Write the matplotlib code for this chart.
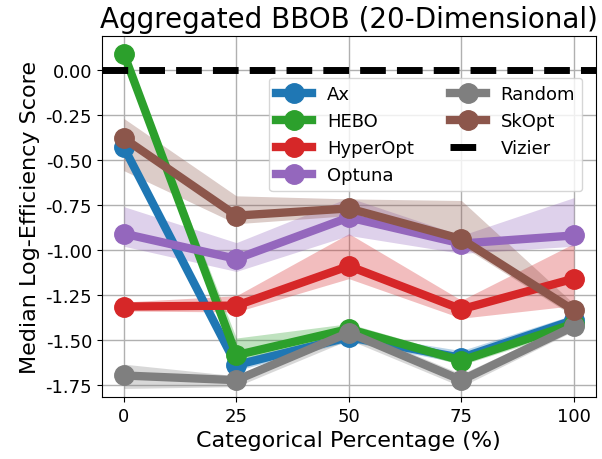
import matplotlib
matplotlib.use("Agg")
import matplotlib.pyplot as plt
import numpy as np

x = [0, 25, 50, 75, 100]
xticks = [0, 25, 50, 75, 100]

names = ["Ax", "HEBO", "HyperOpt", "Optuna", "Random", "SkOpt"]
colors = ["#1f77b4", "#2ca02c", "#d62728", "#9467bd", "#7f7f7f", "#8c564b"]

ax_med = [-0.43, -1.64, -1.485, -1.60, -1.39]
ax_lo = [-0.45, -1.67, -1.51, -1.63, -1.42]
ax_hi = [-0.41, -1.61, -1.46, -1.56, -1.36]

hebo_med = [0.09, -1.585, -1.44, -1.615, -1.41]
hebo_lo = [0.08, -1.62, -1.47, -1.64, -1.44]
hebo_hi = [0.10, -1.49, -1.41, -1.59, -1.39]

hyper_med = [-1.315, -1.31, -1.09, -1.33, -1.16]
hyper_lo = [-1.34, -1.345, -1.16, -1.38, -1.31]
hyper_hi = [-1.29, -1.255, -0.91, -1.28, -0.965]

optuna_med = [-0.91, -1.05, -0.82, -0.965, -0.92]
optuna_lo = [-0.98, -1.12, -0.92, -1.02, -0.98]
optuna_hi = [-0.76, -0.96, -0.71, -0.92, -0.71]

random_med = [-1.698, -1.724, -1.46, -1.724, -1.425]
random_lo = [-1.77, -1.76, -1.50, -1.76, -1.45]
random_hi = [-1.635, -1.70, -1.43, -1.69, -1.40]

skopt_med = [-0.38, -0.81, -0.77, -0.94, -1.337]
skopt_lo = [-0.56, -0.855, -0.81, -0.976, -1.37]
skopt_hi = [-0.27, -0.70, -0.717, -0.726, -1.30]

vizier_value = 0.0

meds = [ax_med, hebo_med, hyper_med, optuna_med, random_med, skopt_med]
los = [ax_lo, hebo_lo, hyper_lo, optuna_lo, random_lo, skopt_lo]
his = [ax_hi, hebo_hi, hyper_hi, optuna_hi, random_hi, skopt_hi]

fig = plt.figure(figsize=(6.02, 4.6), dpi=100)
ax = fig.add_subplot(111)
fig.subplots_adjust(left=0.169, right=0.990, top=0.920, bottom=0.135)

for name, c, m, lo, hi in zip(names, colors, meds, los, his):
    ax.plot(x, m, color=c, lw=6, marker="o", markersize=14, label=name)
    ax.fill_between(x, lo, hi, color=c, alpha=0.3, lw=0)

ax.axhline(vizier_value, color="black", ls="--", lw=5, label="Vizier")

ax.set_xlim(-4.9, 104.9)
ax.set_ylim(-1.817, 0.189)
ax.set_xticks(xticks)
ax.set_yticks(np.arange(-1.75, 0.01, 0.25))
ax.yaxis.set_major_formatter(matplotlib.ticker.FormatStrFormatter("%.2f"))
ax.tick_params(labelsize=13)
ax.grid(True, color="#b0b0b0", lw=1)
ax.set_axisbelow(True)

ax.set_title("Aggregated BBOB (20-Dimensional)", fontsize=20)
ax.set_xlabel("Categorical Percentage (%)", fontsize=16)
ax.set_ylabel("Median Log-Efficiency Score", fontsize=16)

ax.legend(ncol=2, fontsize=13, loc="upper right", bbox_to_anchor=(0.972, 0.884),
          borderaxespad=0)

fig.savefig("out.png", dpi=100)
